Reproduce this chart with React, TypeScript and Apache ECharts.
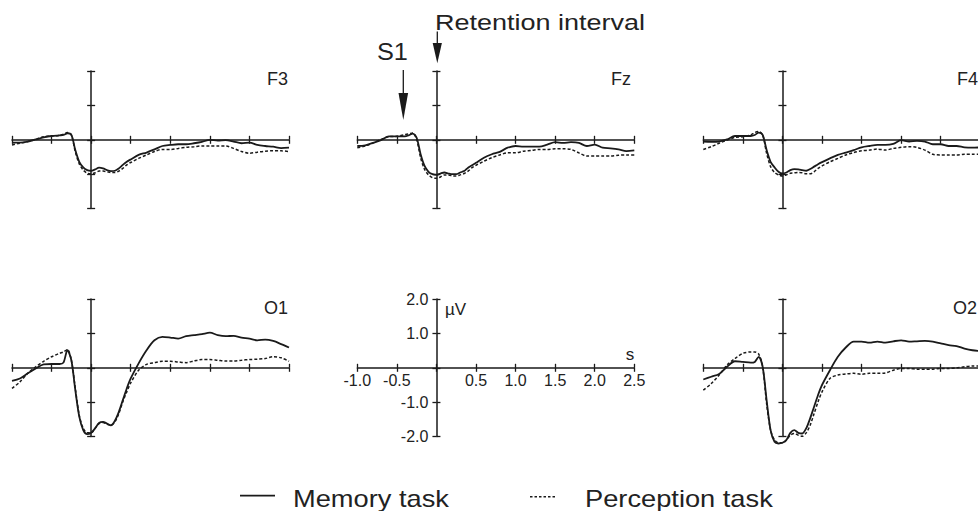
import React, { useEffect, useRef } from 'react';
import * as echarts from 'echarts';

// time samples (s)
const times = [-1.0, -0.9, -0.8, -0.7, -0.6, -0.5, -0.4, -0.35, -0.3, -0.25, -0.2, -0.15, -0.1, -0.05, 0, 0.05, 0.1, 0.15, 0.2, 0.25, 0.3, 0.35, 0.4, 0.45, 0.5, 0.6, 0.7, 0.8, 0.9, 1.0, 1.1, 1.2, 1.3, 1.4, 1.5, 1.6, 1.7, 1.8, 1.9, 2.0, 2.1, 2.2, 2.3, 2.4, 2.5];

// amplitudes (µV)
const f3Memory = [-0.08, -0.08, -0.05, 0.01, 0.07, 0.11, 0.13, 0.14, 0.19, 0.14, -0.3, -0.64, -0.8, -0.88, -0.9, -0.86, -0.81, -0.83, -0.88, -0.91, -0.9, -0.83, -0.73, -0.64, -0.57, -0.44, -0.37, -0.28, -0.18, -0.15, -0.13, -0.13, -0.1, -0.06, 0, -0.02, -0.01, -0.05, -0.1, -0.08, -0.15, -0.18, -0.2, -0.24, -0.23];
const f3Perception = [-0.15, -0.1, -0.05, 0.01, 0.09, 0.11, 0.13, 0.16, 0.21, 0.14, -0.35, -0.7, -0.88, -0.97, -0.99, -0.96, -0.91, -0.91, -0.93, -0.95, -0.95, -0.91, -0.83, -0.73, -0.66, -0.54, -0.44, -0.34, -0.28, -0.28, -0.25, -0.22, -0.2, -0.18, -0.18, -0.18, -0.18, -0.25, -0.34, -0.39, -0.36, -0.33, -0.32, -0.32, -0.34];
const fzMemory = [-0.18, -0.16, -0.09, -0.01, 0.1, 0.1, 0.1, 0.13, 0.18, 0.06, -0.42, -0.76, -0.93, -1.0, -1.02, -0.98, -0.95, -0.98, -1.0, -1.0, -0.95, -0.91, -0.81, -0.74, -0.67, -0.52, -0.42, -0.35, -0.23, -0.18, -0.2, -0.2, -0.2, -0.14, -0.07, -0.09, -0.07, -0.09, -0.18, -0.14, -0.23, -0.25, -0.28, -0.33, -0.31];
const fzPerception = [-0.23, -0.18, -0.09, 0.01, 0.09, 0.1, 0.15, 0.17, 0.2, 0.01, -0.52, -0.86, -1.02, -1.1, -1.12, -1.08, -1.02, -1.02, -1.05, -1.05, -1.02, -0.98, -0.91, -0.81, -0.74, -0.62, -0.52, -0.44, -0.38, -0.38, -0.33, -0.31, -0.28, -0.28, -0.26, -0.26, -0.28, -0.38, -0.47, -0.47, -0.47, -0.47, -0.45, -0.44, -0.44];
const f4Memory = [-0.05, -0.06, -0.05, 0.01, 0.11, 0.11, 0.11, 0.14, 0.21, 0.14, -0.3, -0.64, -0.8, -0.93, -0.98, -0.95, -0.88, -0.85, -0.86, -0.88, -0.9, -0.85, -0.78, -0.71, -0.65, -0.54, -0.44, -0.37, -0.3, -0.22, -0.18, -0.15, -0.15, -0.12, -0.01, -0.05, -0.03, -0.05, -0.13, -0.13, -0.18, -0.18, -0.22, -0.23, -0.22];
const f4Perception = [-0.28, -0.2, -0.1, -0.01, 0.07, 0.09, 0.14, 0.21, 0.24, 0.14, -0.39, -0.78, -0.95, -1.02, -1.05, -1.02, -0.97, -0.96, -0.95, -0.96, -0.99, -0.99, -0.93, -0.83, -0.76, -0.64, -0.54, -0.44, -0.37, -0.32, -0.3, -0.27, -0.3, -0.25, -0.22, -0.2, -0.22, -0.3, -0.42, -0.44, -0.44, -0.44, -0.42, -0.42, -0.42];
const o1Memory = [-0.38, -0.31, -0.16, -0.02, 0.1, 0.11, 0.11, 0.15, 0.51, 0.22, -0.65, -1.42, -1.81, -1.93, -1.89, -1.76, -1.6, -1.57, -1.62, -1.67, -1.54, -1.28, -0.94, -0.6, -0.31, 0.13, 0.51, 0.8, 0.9, 0.88, 0.85, 0.92, 0.95, 0.98, 1.02, 0.95, 0.92, 0.93, 0.88, 0.85, 0.8, 0.82, 0.78, 0.69, 0.59];
const o1Perception = [-0.6, -0.41, -0.16, 0.03, 0.19, 0.32, 0.42, 0.46, 0.53, 0.22, -0.6, -1.38, -1.76, -1.89, -1.89, -1.76, -1.62, -1.59, -1.64, -1.67, -1.57, -1.33, -0.99, -0.7, -0.44, -0.07, 0.1, 0.15, 0.19, 0.19, 0.17, 0.15, 0.2, 0.24, 0.24, 0.22, 0.2, 0.2, 0.22, 0.24, 0.25, 0.27, 0.32, 0.29, 0.19];
const o2Memory = [-0.34, -0.26, -0.18, 0.03, 0.19, 0.17, 0.15, 0.17, 0.32, 0.03, -0.94, -1.81, -2.15, -2.2, -2.18, -2.1, -1.89, -1.81, -1.89, -1.91, -1.76, -1.47, -1.13, -0.79, -0.5, -0.07, 0.32, 0.59, 0.76, 0.76, 0.73, 0.76, 0.73, 0.77, 0.8, 0.76, 0.77, 0.78, 0.76, 0.71, 0.66, 0.63, 0.56, 0.51, 0.49];
const o2Perception = [-0.65, -0.46, -0.21, 0.08, 0.27, 0.42, 0.46, 0.46, 0.4, 0.03, -1.04, -1.81, -2.1, -2.18, -2.18, -2.1, -1.96, -1.91, -1.96, -1.99, -1.89, -1.67, -1.33, -0.99, -0.7, -0.31, -0.21, -0.18, -0.16, -0.19, -0.16, -0.16, -0.15, -0.07, -0.02, -0.02, -0.04, -0.04, -0.04, -0.02, -0.02, 0, 0.03, 0.05, 0.05];

const channelLabels = ['F3', 'Fz', 'F4', 'O1', '', 'O2'];
const seriesNames = ['Memory task', 'Perception task'];
const xRange = [-1.0, 2.5];
const yRange = [-2.0, 2.0];

const INK = '#1a1a1a';
const TEXT = '#222222';
const FONT = '"Liberation Sans", Arial, Helvetica, sans-serif';

export default function App() {
  const ref = useRef<HTMLDivElement>(null);

  useEffect(() => {
    if (!ref.current) return;
    const chart = echarts.init(ref.current, null, { renderer: 'svg' });

    const W = 277;
    const H = 137.6;
    // shift the axes from the grid edges to the zero lines
    const yAxisShift = -W * (0 - xRange[0]) / (xRange[1] - xRange[0]);
    const xAxisShift = -H * (0 - yRange[0]) / (yRange[1] - yRange[0]);

    const panels = [
      { label: channelLabels[0], memory: f3Memory, perception: f3Perception, left: 12, top: 71, lx: 288, ly: 78.5, align: 'right' },
      { label: channelLabels[1], memory: fzMemory, perception: fzPerception, left: 357.3, top: 71, lx: 631, ly: 78.5, align: 'right' },
      { label: channelLabels[2], memory: f4Memory, perception: f4Perception, left: 703.3, top: 71, lx: 957, ly: 78.5, align: 'left' },
      { label: channelLabels[3], memory: o1Memory, perception: o1Perception, left: 12, top: 299, lx: 288, ly: 308, align: 'right' },
      { label: channelLabels[4], memory: null, perception: null, left: 357.3, top: 299, lx: 0, ly: 0, align: 'left', scale: true },
      { label: channelLabels[5], memory: o2Memory, perception: o2Perception, left: 703.3, top: 299, lx: 953, ly: 308, align: 'left' },
    ];

    const fmt = (v: number) => (Math.abs(v) < 1e-9 ? '' : v.toFixed(1));

    const grid: any[] = [];
    const xAxis: any[] = [];
    const yAxis: any[] = [];
    const series: any[] = [];
    const graphic: any[] = [];

    panels.forEach((p, i) => {
      // two overlapping grids per panel: one with ticks above/right, one with ticks below/left
      [0, 1].forEach((k) => {
        const g = grid.length;
        grid.push({ left: p.left, top: p.top, width: W, height: H, outerBoundsMode: 'none' });
        xAxis.push({
          type: 'value', gridIndex: g, min: xRange[0], max: xRange[1], interval: 0.5,
          position: 'bottom', offset: xAxisShift,
          axisLine: { show: k === 0, onZero: false, lineStyle: { color: INK, width: 1.5 } },
          axisTick: { show: true, inside: k === 0, length: 4, lineStyle: { color: INK, width: 1.3 } },
          axisLabel: { show: !!p.scale && k === 0, margin: 5, fontSize: 16, color: TEXT, fontFamily: FONT, formatter: fmt },
          splitLine: { show: false },
        });
        yAxis.push({
          type: 'value', gridIndex: g, min: yRange[0], max: yRange[1], interval: 1,
          position: 'left', offset: yAxisShift,
          axisLine: { show: k === 0, onZero: false, lineStyle: { color: INK, width: 1.5 } },
          axisTick: { show: true, inside: k === 0, length: 4, lineStyle: { color: INK, width: 1.3 } },
          axisLabel: { show: !!p.scale && k === 0, margin: 8, fontSize: 16, color: TEXT, fontFamily: FONT, formatter: fmt },
          splitLine: { show: false },
        });
      });
      const ai = 2 * i;
      if (p.memory && p.perception) {
        series.push({
          name: seriesNames[0], type: 'line', xAxisIndex: ai, yAxisIndex: ai,
          data: times.map((t, j) => [t, p.memory![j]]),
          showSymbol: false, symbol: 'none', smooth: 0.3, clip: false, z: 4,
          lineStyle: { color: INK, width: 1.8, type: 'solid' },
        });
        series.push({
          name: seriesNames[1], type: 'line', xAxisIndex: ai, yAxisIndex: ai,
          data: times.map((t, j) => [t, p.perception![j]]),
          showSymbol: false, symbol: 'none', smooth: 0.3, clip: false, z: 3,
          lineStyle: { color: INK, width: 1.5, type: [3, 2] },
        });
      }
      if (p.label) {
        graphic.push({
          type: 'text', x: p.lx, y: p.ly,
          style: { text: p.label, fontSize: 18, fontFamily: FONT, fill: TEXT, textAlign: p.align, textVerticalAlign: 'middle' },
        });
      }
    });

    // scale panel units
    graphic.push({ type: 'text', x: 445, y: 309, style: { text: 'µV', fontSize: 17, fontFamily: FONT, fill: TEXT, textAlign: 'left', textVerticalAlign: 'middle' } });
    graphic.push({ type: 'text', x: 630, y: 354, style: { text: 's', fontSize: 17, fontFamily: FONT, fill: TEXT, textAlign: 'center', textVerticalAlign: 'middle' } });

    // annotations
    graphic.push({ type: 'text', x: 435, y: 22.8, scaleX: 1.2, style: { text: 'Retention interval', fontSize: 22.5, fontFamily: FONT, fill: TEXT, textAlign: 'left', textVerticalAlign: 'middle' } });
    graphic.push({ type: 'text', x: 377, y: 51.7, scaleX: 1.1, style: { text: 'S1', fontSize: 23, fontFamily: FONT, fill: TEXT, textAlign: 'left', textVerticalAlign: 'middle' } });
    graphic.push({ type: 'line', shape: { x1: 403.3, y1: 70, x2: 403.3, y2: 96 }, style: { stroke: INK, lineWidth: 1.3 } });
    graphic.push({ type: 'polygon', shape: { points: [[398.5, 93], [408.1, 93], [403.3, 120]] }, style: { fill: INK } });
    graphic.push({ type: 'line', shape: { x1: 437.3, y1: 31.5, x2: 437.3, y2: 45 }, style: { stroke: INK, lineWidth: 1.3 } });
    graphic.push({ type: 'polygon', shape: { points: [[432.7, 43], [441.9, 43], [437.3, 63.3]] }, style: { fill: INK } });

    // legend
    graphic.push({ type: 'line', shape: { x1: 240, y1: 495.7, x2: 275, y2: 495.7 }, style: { stroke: INK, lineWidth: 1.8 } });
    graphic.push({ type: 'text', x: 293, y: 498.3, scaleX: 1.185, style: { text: seriesNames[0], fontSize: 23, fontFamily: FONT, fill: TEXT, textAlign: 'left', textVerticalAlign: 'middle' } });
    graphic.push({ type: 'line', shape: { x1: 530, y1: 496.7, x2: 557, y2: 496.7 }, style: { stroke: INK, lineWidth: 1.5, lineDash: [2.5, 2] } });
    graphic.push({ type: 'text', x: 585, y: 498.3, scaleX: 1.185, style: { text: seriesNames[1], fontSize: 23, fontFamily: FONT, fill: TEXT, textAlign: 'left', textVerticalAlign: 'middle' } });

    chart.setOption({
      animation: false,
      backgroundColor: '#ffffff',
      textStyle: { fontFamily: FONT },
      grid, xAxis, yAxis, series, graphic,
    });

    return () => chart.dispose();
  }, []);

  return (
    <div
      ref={ref}
      style={{ position: 'fixed', left: 0, top: 0, width: 978, height: 511, background: '#ffffff' }}
    />
  );
}
